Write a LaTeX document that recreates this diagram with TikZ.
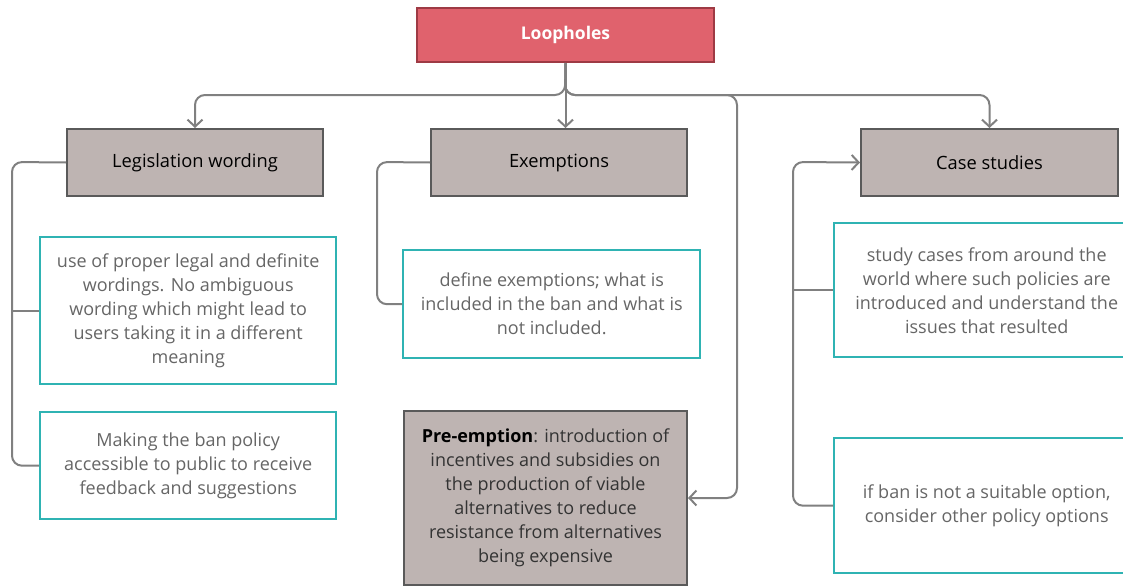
\documentclass[tikz,border=0pt]{standalone}
\usepackage{fontspec}
\setmainfont{Open Sans}
\usetikzlibrary{arrows.meta}

\definecolor{rootfill}{HTML}{E0626D}
\definecolor{rootline}{HTML}{9E3A44}
\definecolor{headfill}{HTML}{BEB4B2}
\definecolor{headline}{HTML}{5A5A5A}
\definecolor{leafline}{HTML}{2FB3B3}
\definecolor{leaftext}{HTML}{666666}
\definecolor{wire}{HTML}{808080}

\tikzset{
  rootbox/.style={draw=rootline, fill=rootfill, line width=2pt, anchor=north west,
    inner sep=0pt, text=white, font=\fontsize{17.5}{22}\selectfont\bfseries},
  headbox/.style={draw=headline, fill=headfill, line width=2pt, anchor=north west,
    inner sep=0pt, text=black, font=\fontsize{18.3}{22}\selectfont},
  leafbox/.style={draw=leafline, fill=white, line width=2.4pt, anchor=north west,
    inner sep=0pt, align=center, text=leaftext, font=\fontsize{18}{24}\selectfont},
  conn/.style={draw=wire, line width=2pt, rounded corners=10pt},
  tip/.style={-{Straight Barb[length=7pt,width=15pt,line width=2pt]}}
}

\begin{document}
\begin{tikzpicture}[x=1pt, y=-1pt]
\useasboundingbox (0,0) rectangle (1123,586);
\clip (0,0) rectangle (1123,586);

% top level
\node[rootbox, minimum width=297pt, minimum height=54pt] (root) at (416,7) {Loopholes};

% category headers
\node[headbox, minimum width=256pt, minimum height=67pt] (leg) at (66,128) {Legislation wording};
\node[headbox, minimum width=256pt, minimum height=67pt] (exm) at (430,128) {Exemptions};
\node[headbox, minimum width=257pt, minimum height=67pt] (cas) at (860,128) {Case studies};

% leaf boxes
\node[leafbox, minimum width=296pt, minimum height=147pt] (leg1) at (39,236)
  {use of proper legal and definite\\wordings. No ambiguous\\wording which might lead to\\users taking it in a different\\meaning};
\node[leafbox, minimum width=296pt, minimum height=107pt] (leg2) at (39,411)
  {Making the ban policy\\accessible to public to receive\\feedback and suggestions};
\node[leafbox, minimum width=297pt, minimum height=108pt] (exm1) at (402,249)
  {define exemptions; what is\\included in the ban and what is\\not included.};
\node[leafbox, minimum width=305pt, minimum height=134pt] (cas1) at (833,222)
  {study cases from around the\\world where such policies are\\introduced and understand the\\issues that resulted};
\node[leafbox, minimum width=305pt, minimum height=135pt] (cas2) at (833,437)
  {if ban is not a suitable option,\\consider other policy options};
\node[headbox, align=center, text=black!80, font=\fontsize{18}{24}\selectfont,
  minimum width=283pt, minimum height=174pt] (pre) at (403,410)
  {\textcolor{black}{\bfseries Pre-emption}: introduction of\\incentives and subsidies on\\the production of viable\\alternatives to reduce\\resistance from alternatives\\being expensive};

% bends of the main bus
\coordinate (hub) at (565,95);
\coordinate (drop) at (737,95);

% root to categories
\draw[conn, tip] (root.south) -- (hub) -| (leg.north);
\draw[conn, tip] (root.south) -- (root.south |- exm.north);
\draw[conn, tip] (root.south) -- (hub) -| (cas.north);
\draw[conn, tip] (root.south) -- (hub) -- (drop) |- (pre.east);

% legislation wording branch
\coordinate (legbend) at (12,162);
\draw[conn] (leg.west) -- (legbend) |- (leg2.west);
\draw[conn] (legbend |- leg1.west) -- (leg1.west);

% exemptions branch
\coordinate (exmbend) at (377,162);
\draw[conn] (exm.west) -- (exmbend) |- (exm1.west);

% case studies branch
\coordinate (casbend) at (793,162);
\draw[conn, tip] (cas2.west) -| (casbend) -- (cas.west);
\draw[conn] (casbend |- cas1.west) -- (cas1.west);
\end{tikzpicture}
\end{document}
